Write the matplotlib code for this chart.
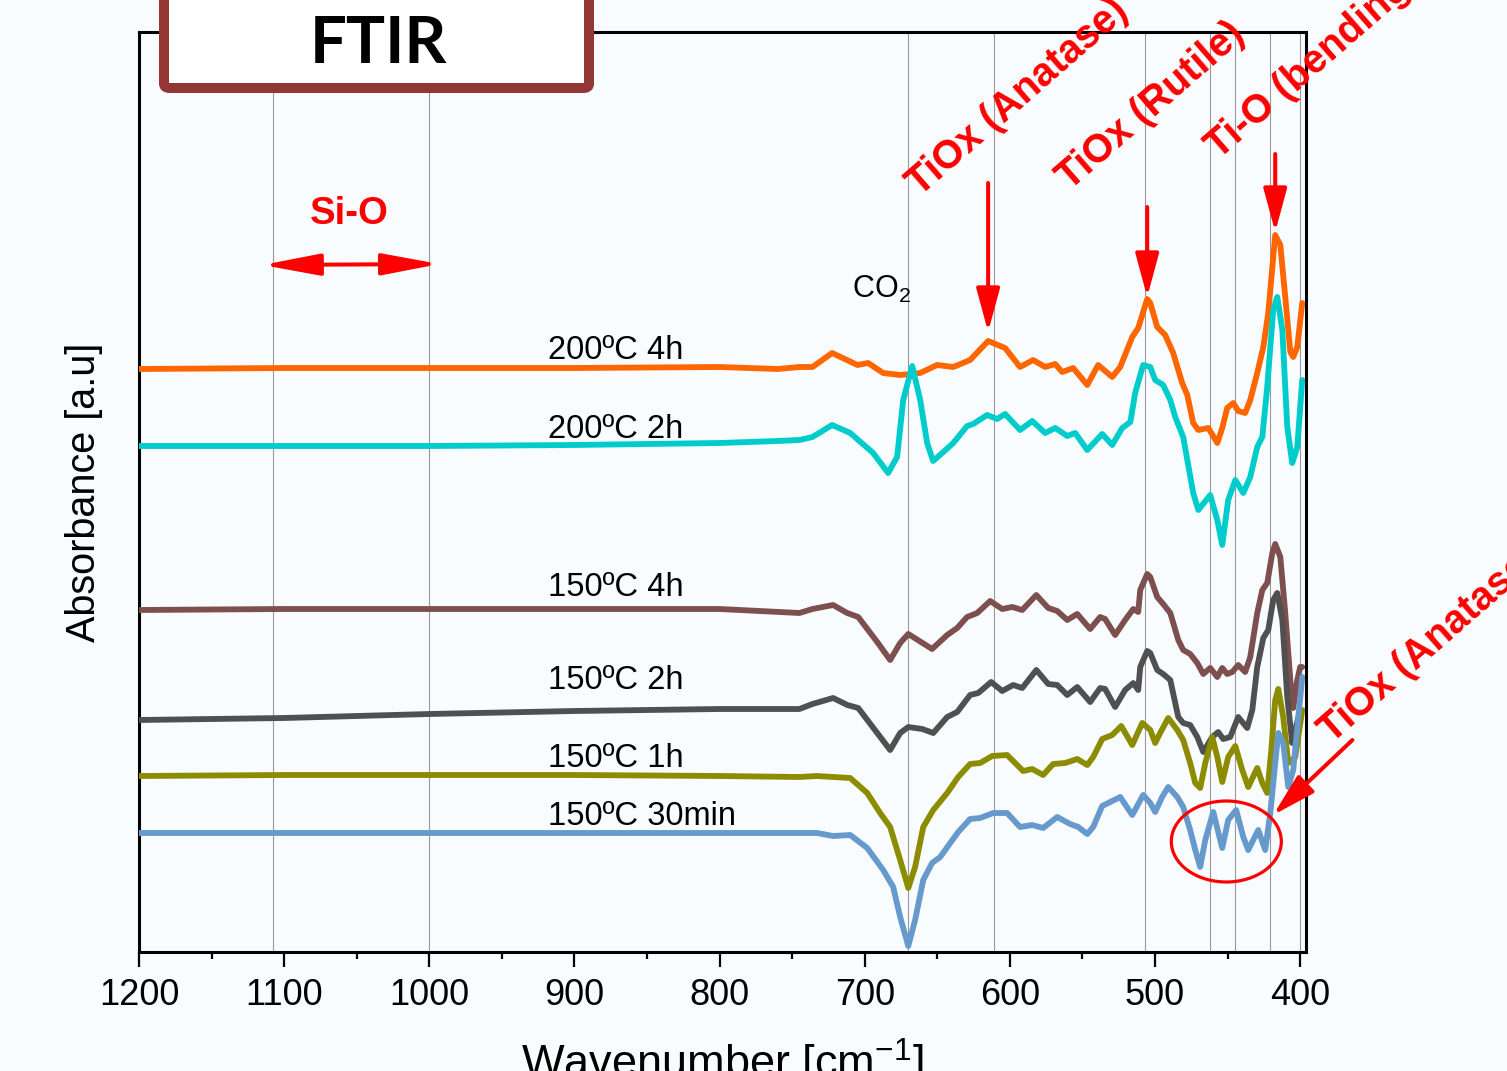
import matplotlib.pyplot as plt
from matplotlib.patches import Ellipse, FancyBboxPatch
from matplotlib.ticker import MultipleLocator

plt.rcParams['font.family'] = ['Liberation Sans', 'DejaVu Sans']
plt.rcParams['mathtext.default'] = 'regular'

# spectra (wavenumber in cm-1, absorbance offset in a.u.)
wn_200_4h = [1200, 1100, 1000, 900, 800, 760, 745, 736, 722.5, 705, 697.6, 687.3, 675.6, 661.8, 650.1,
             639, 627.4, 615, 603.3, 593, 584, 575.7, 568.8, 564, 556.4, 546.7, 539.2, 529.5, 524,
             515.7, 511.6, 505.4, 503.3, 498.5, 493, 487.5, 481.3, 477.8, 473.7, 470.2, 463.3, 457.1,
             453.7, 450.3, 446.1, 442.7, 437.9, 434.4, 429.6, 425.4, 422, 419.2, 417.2, 413.7, 410.3,
             406.8, 404.8, 402, 398.6]
ab_200_4h = [5.83, 5.84, 5.84, 5.84, 5.85, 5.83, 5.85, 5.85, 5.99, 5.87, 5.89, 5.79, 5.77, 5.79, 5.87,
             5.85, 5.92, 6.11, 6.04, 5.85, 5.92, 5.85, 5.88, 5.80, 5.84, 5.67, 5.87, 5.75, 5.85,
             6.15, 6.24, 6.53, 6.49, 6.25, 6.17, 5.99, 5.69, 5.57, 5.29, 5.22, 5.24, 5.09,
             5.24, 5.44, 5.49, 5.41, 5.39, 5.52, 5.79, 6.05, 6.39, 6.85, 7.17, 7.07, 6.55,
             6.00, 5.95, 6.05, 6.49]

wn_200_2h = [1200, 1100, 1000, 900, 800, 760, 745, 736, 722.5, 710, 694.2, 683.9, 677.7, 673.5, 667.3,
             661.8, 657, 652.9, 645.9, 639, 629.5, 625.3, 615.7, 608.8, 603.3, 593, 584.6, 575.7,
             568.8, 560.5, 555, 546.7, 536.4, 529.5, 522.6, 517, 513.7, 508.2, 503.3, 499.9, 494.4,
             489.5, 486.1, 480.6, 473.7, 470.2, 462, 457.1, 453.7, 449.6, 444.7, 439.2, 434.4, 429.6,
             426.1, 422.7, 418.6, 415.8, 412.3, 408.9, 405.5, 402, 398.6]
ab_200_2h = [5.06, 5.06, 5.06, 5.07, 5.09, 5.11, 5.12, 5.15, 5.27, 5.19, 4.99, 4.79, 4.95, 5.52, 5.86,
             5.52, 5.09, 4.91, 5.00, 5.09, 5.26, 5.28, 5.37, 5.33, 5.38, 5.22, 5.31, 5.19,
             5.24, 5.16, 5.19, 5.02, 5.18, 5.07, 5.24, 5.30, 5.59, 5.87, 5.85, 5.72, 5.67,
             5.52, 5.35, 5.15, 4.59, 4.42, 4.57, 4.32, 4.07, 4.52, 4.72, 4.59, 4.75, 5.05,
             5.15, 5.65, 6.42, 6.55, 6.22, 5.25, 4.89, 5.05, 5.72]

wn_150_4h = [1200, 1100, 1000, 900, 800, 745, 736, 721.8, 712.1, 704.5, 691.4, 682.5, 675.6, 670, 653.6,
             643.2, 636.3, 629.5, 622.5, 613.6, 605.3, 598.4, 591.5, 581.8, 573.6, 567.4, 560.5,
             553.6, 544.7, 537.8, 534.4, 527.5, 520.6, 515, 511.6, 510.2, 505.4, 503.3, 498.5, 494.4,
             489.5, 484, 480.6, 475.8, 470.9, 466.8, 462, 457.1, 453.7, 450.3, 446.8, 442.7, 437.9,
             434.4, 429.6, 426.1, 422.7, 419.2, 417.2, 413.7, 410.3, 406.8, 404.8, 402, 400, 398.6]
ab_150_4h = [3.42, 3.43, 3.43, 3.43, 3.43, 3.39, 3.43, 3.47, 3.39, 3.35, 3.10, 2.92, 3.09, 3.18, 3.03,
             3.17, 3.24, 3.35, 3.39, 3.51, 3.43, 3.45, 3.42, 3.57, 3.44, 3.41, 3.32,
             3.38, 3.23, 3.35, 3.33, 3.17, 3.32, 3.43, 3.40, 3.62, 3.78, 3.75, 3.55, 3.48,
             3.39, 3.12, 3.02, 2.98, 2.89, 2.78, 2.84, 2.75, 2.84, 2.78, 2.80, 2.87, 2.80,
             2.95, 3.39, 3.62, 3.69, 3.99, 4.08, 3.95, 3.39, 2.72, 2.44, 2.72, 2.85, 2.85]

wn_150_2h = [1200, 1150, 1100, 1000, 900, 800, 745, 736, 721.8, 712, 704.5, 691.4, 682.5, 675.6, 670,
             660.4, 652.8, 643.2, 636.3, 627.4, 621.8, 612.9, 605.3, 597.7, 591.5, 581.8, 573.6,
             567.4, 560.5, 553.6, 544.7, 537.8, 534.4, 527.5, 520.6, 515, 511.6, 510.2, 505.4, 503.3,
             498.5, 494.4, 489.5, 484, 480.6, 475.8, 470.9, 466.8, 460.6, 456.5, 453, 448.2, 442.7,
             436.5, 433, 429.6, 425.4, 422, 418.6, 415.8, 412.3, 408.9, 405.5, 403.4, 400]
ab_150_2h = [2.32, 2.33, 2.34, 2.38, 2.41, 2.43, 2.43, 2.48, 2.54, 2.47, 2.44, 2.19, 2.02, 2.19, 2.25,
             2.23, 2.19, 2.35, 2.40, 2.57, 2.59, 2.70, 2.61, 2.67, 2.64, 2.82, 2.68,
             2.67, 2.57, 2.65, 2.50, 2.64, 2.63, 2.45, 2.62, 2.69, 2.62, 2.85, 3.01, 2.99,
             2.82, 2.78, 2.72, 2.35, 2.29, 2.27, 2.15, 2.00, 2.15, 2.20, 2.13, 2.15, 2.35,
             2.24, 2.42, 2.85, 3.14, 3.22, 3.52, 3.59, 3.32, 2.55, 2.09, 2.22, 2.42]

wn_150_1h = [1200, 1100, 1000, 900, 800, 745, 732.8, 721.8, 710, 698.3, 689.4, 682.5, 675.6, 670, 665.3,
             659.7, 652.8, 643.2, 635.6, 627.4, 620.5, 612.2, 601.9, 595, 590.9, 584.7, 577.1,
             570.2, 561.9, 553.6, 546.7, 542.6, 536.4, 529.5, 523.3, 515.7, 508.8, 503.3, 499.9,
             496.5, 490.9, 484.7, 480.6, 475.8, 472.3, 468.9, 465.4, 460.6, 457.1, 453.7, 449.6,
             444.7, 439.9, 435.8, 429.6, 426.1, 422.7, 419.9, 417.2, 415.1, 411.7, 408.2, 403.4, 398.6]
ab_150_1h = [1.76, 1.77, 1.77, 1.77, 1.76, 1.75, 1.76, 1.75, 1.74, 1.59, 1.39, 1.25, 0.92, 0.64, 0.85,
             1.25, 1.42, 1.59, 1.75, 1.88, 1.89, 1.96, 1.97, 1.87, 1.81, 1.83, 1.77,
             1.88, 1.89, 1.93, 1.87, 1.95, 2.13, 2.17, 2.26, 2.07, 2.29, 2.22, 2.09,
             2.19, 2.34, 2.22, 2.12, 1.89, 1.69, 1.64, 1.89, 2.15, 1.95, 1.70, 1.95,
             2.06, 1.82, 1.65, 1.84, 1.69, 1.59, 2.02, 2.52, 2.63, 2.35, 1.89, 1.95, 2.42]

wn_150_30m = [1200, 1100, 1000, 900, 800, 744.5, 732.8, 721.8, 710, 698.3, 687.3, 680.4, 675.6, 670,
              665.3, 659.7, 653.6, 648, 641.1, 635.6, 627.4, 620.5, 611.5, 601.9, 593, 584.7, 577.1,
              567.4, 558.5, 552.9, 546.7, 542.6, 536.4, 524, 515.7, 508.2, 503.3, 499.9, 495.1,
              490.9, 484.7, 480.6, 475.8, 472.3, 468.9, 465.4, 459.9, 453.7, 449.6, 444.1, 439.2,
              435.8, 428.9, 424.1, 420.6, 417.2, 415.1, 411.7, 408.2, 404.8, 401.3, 398.6]
ab_150_30m = [1.19, 1.19, 1.19, 1.19, 1.19, 1.19, 1.19, 1.16, 1.17, 1.04, 0.82, 0.65, 0.35, 0.06,
              0.32, 0.72, 0.89, 0.95, 1.09, 1.20, 1.33, 1.34, 1.39, 1.39, 1.25, 1.27, 1.24,
              1.35, 1.28, 1.25, 1.18, 1.25, 1.46, 1.55, 1.37, 1.57, 1.49, 1.40, 1.55,
              1.65, 1.55, 1.45, 1.22, 1.02, 0.85, 1.12, 1.40, 1.04, 1.32, 1.42, 1.15,
              1.02, 1.22, 1.02, 1.39, 1.89, 2.19, 2.09, 1.65, 1.82, 2.35, 2.75]

labels = ['200ºC 4h', '200ºC 2h', '150ºC 4h', '150ºC 2h', '150ºC 1h', '150ºC 30min']
colors = ['#FF6600', '#00CCCC', '#7D4F4F', '#505050', '#8C8C00', '#6699CC']
label_y = [5.93, 5.14, 3.56, 2.63, 1.85, 1.27]

# thin vertical marker lines at band positions
band_lines = [1108, 1000, 670, 611, 507, 462, 445, 420.5, 400]

bg = '#F8FCFE'
red = '#FF0000'

fig = plt.figure(figsize=(15.07, 10.71), dpi=100, facecolor=bg)
ax = fig.add_axes([139 / 1507, 119 / 1071, 1167 / 1507, 920 / 1071])
ax.set_facecolor(bg)

for b in band_lines:
    ax.axvline(b, color='#999999', lw=0.8, zorder=1)

all_wn = [wn_200_4h, wn_200_2h, wn_150_4h, wn_150_2h, wn_150_1h, wn_150_30m]
all_ab = [ab_200_4h, ab_200_2h, ab_150_4h, ab_150_2h, ab_150_1h, ab_150_30m]
for wn, ab, c, lab, ly in zip(all_wn, all_ab, colors, labels, label_y):
    ax.plot(wn, ab, color=c, lw=4.2, zorder=3, solid_joinstyle='round', solid_capstyle='round')
    ax.text(918, ly, lab, fontsize=23.5, color='black', ha='left', va='baseline', zorder=4)

ax.set_xlim(1200, 396)
ax.set_ylim(0, 9.2)
ax.set_xticks(range(1200, 399, -100))
ax.xaxis.set_minor_locator(MultipleLocator(50))
ax.set_yticks([])
ax.tick_params(axis='x', which='major', length=10.5, width=1.6, direction='out', labelsize=26, pad=8)
ax.tick_params(axis='x', which='minor', length=5, width=1.6, direction='out')
for s in ax.spines.values():
    s.set_linewidth(2.2)
    s.set_color('black')

ax.set_xlabel('Wavenumber [cm$^{-1}$]', fontsize=32.5)
ax.xaxis.set_label_coords(0.5, -0.092)
ax.set_ylabel('Absorbance [a.u]', fontsize=28.5)
ax.yaxis.set_label_coords(-0.031, 0.5)

ax.text(709, 6.54, 'CO$_2$', fontsize=22, ha='left', va='baseline')

# Si-O double arrow
ax.annotate('', xy=(993, 6.88), xytext=(1115, 6.87),
            arrowprops=dict(arrowstyle='<|-|>,head_length=1.75,head_width=0.33', color=red, lw=2.9,
                            shrinkA=0, shrinkB=0, mutation_scale=20))
ax.text(1055, 7.28, 'Si-O', fontsize=27.5, fontweight='bold', color=red, ha='center', va='baseline')

# down arrows
arrow_props = dict(arrowstyle='-|>,head_length=1.33,head_width=0.36', color=red, lw=2.9,
                   shrinkA=0, shrinkB=0, mutation_scale=20)
ax.annotate('', xy=(615, 6.20), xytext=(615, 7.69), arrowprops=arrow_props)
ax.annotate('', xy=(505.4, 6.55), xytext=(505.4, 7.45), arrowprops=arrow_props)
ax.annotate('', xy=(417.2, 7.20), xytext=(417.2, 7.98), arrowprops=arrow_props)
ax.annotate('', xy=(418.6, 1.37), xytext=(364, 2.12), arrowprops=arrow_props, annotation_clip=False)

# rotated band names
rot = 41
band_names = ['TiOx (Anatase)', 'TiOx (Rutile)', 'Ti-O (bending)', 'TiOx (Anatase)']
band_name_pos = [(662, 7.55), (559, 7.61), (456, 7.92), (378, 2.08)]
for name, (bx, by) in zip(band_names, band_name_pos):
    ax.text(bx, by, name, fontsize=28.5, fontweight='bold', color=red, rotation=rot,
            rotation_mode='anchor', ha='left', va='baseline', clip_on=False)

ax.add_patch(Ellipse((450.9, 1.105), 75.8, 0.81, fill=False, edgecolor=red, lw=2.3, zorder=5))

# FTIR title box
box = FancyBboxPatch((164 / 1507, 1 - 88 / 1071), (589 - 164) / 1507, 0.2,
                     boxstyle='round,pad=0,rounding_size=0.004', transform=fig.transFigure,
                     facecolor='white', edgecolor='#943634', lw=7.2, zorder=10)
fig.add_artist(box)
fig.text(378 / 1507, 1 - 63 / 1071, 'FTIR', fontsize=47, fontweight='bold', family='Lato',
         ha='center', va='baseline', zorder=11)

fig.savefig('out.png', dpi=100, facecolor=bg)
